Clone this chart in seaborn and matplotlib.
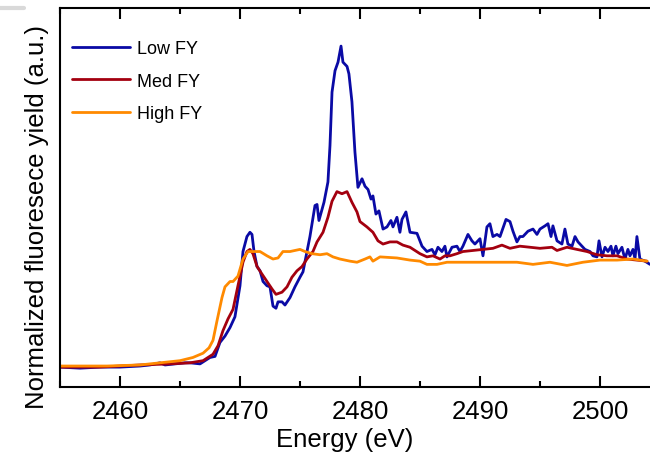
import matplotlib
matplotlib.use("Agg")
import matplotlib.pyplot as plt
from matplotlib.lines import Line2D
from matplotlib.ticker import MultipleLocator
import numpy as np
import pandas as pd
import seaborn as sns

# S K-edge fluorescence-yield spectra (energy in eV, normalized yield)
low_energy = [
    2455.00, 2456.67, 2458.33, 2460.00, 2461.67, 2462.50, 2463.33, 2463.75, 2464.58, 2465.42,
    2465.83, 2466.67, 2467.50, 2467.92, 2468.33, 2468.75, 2469.17, 2469.58, 2470.00, 2470.25,
    2470.58, 2470.83, 2471.00, 2471.17, 2471.42, 2471.67, 2471.92, 2472.25, 2472.50, 2472.75,
    2473.00, 2473.17, 2473.50, 2473.75, 2474.17, 2474.58, 2475.00, 2475.25, 2475.58, 2475.83,
    2476.25, 2476.42, 2476.58, 2477.00, 2477.33, 2477.50, 2477.67, 2477.92, 2478.17, 2478.42,
    2478.58, 2478.92, 2479.08, 2479.33, 2479.58, 2479.83, 2480.17, 2480.42, 2480.67, 2480.92,
    2481.08, 2481.33, 2481.58, 2481.92, 2482.25, 2482.58, 2482.75, 2483.08, 2483.33, 2483.50,
    2483.83, 2484.17, 2484.75, 2485.17, 2485.58, 2486.00, 2486.25, 2486.50, 2486.83, 2487.08,
    2487.25, 2487.67, 2488.08, 2488.33, 2488.58, 2489.00, 2489.33, 2489.58, 2490.00, 2490.25,
    2490.58, 2490.83, 2491.08, 2491.42, 2491.67, 2492.17, 2492.50, 2492.75, 2493.08, 2493.33,
    2493.58, 2494.00, 2494.42, 2494.75, 2495.00, 2495.42, 2495.67, 2495.92, 2496.08, 2496.42,
    2496.83, 2497.08, 2497.33, 2497.67, 2497.92, 2498.17, 2498.50, 2498.75, 2499.17, 2499.42,
    2499.75, 2499.92, 2500.17, 2500.42, 2500.67, 2500.92, 2501.08, 2501.33, 2501.50, 2501.83,
    2502.08, 2502.33, 2502.50, 2502.75, 2502.92, 2503.08, 2503.33, 2503.75, 2504.17,
]
low_fy = [
    -0.01, -0.02, -0.01, -0.01, 0.00, 0.01, 0.03, 0.01, 0.02, 0.03,
    0.03, 0.02, 0.08, 0.09, 0.22, 0.28, 0.36, 0.46, 0.75, 1.07,
    1.21, 1.25, 1.23, 1.07, 0.93, 0.89, 0.79, 0.75, 0.74, 0.56,
    0.54, 0.60, 0.60, 0.57, 0.64, 0.74, 0.83, 0.88, 1.07, 1.21,
    1.50, 1.51, 1.36, 1.53, 1.72, 2.06, 2.56, 2.76, 2.84, 2.99,
    2.84, 2.80, 2.73, 2.47, 2.00, 1.67, 1.75, 1.68, 1.65, 1.56,
    1.59, 1.42, 1.45, 1.28, 1.30, 1.36, 1.30, 1.39, 1.25, 1.37,
    1.44, 1.25, 1.24, 1.12, 1.07, 1.09, 1.04, 1.11, 1.07, 1.12,
    1.02, 1.11, 1.12, 1.07, 1.12, 1.23, 1.17, 1.14, 1.19, 1.03,
    1.30, 1.33, 1.21, 1.23, 1.21, 1.37, 1.35, 1.26, 1.16, 1.21,
    1.21, 1.26, 1.28, 1.23, 1.28, 1.31, 1.33, 1.21, 1.31, 1.17,
    1.14, 1.28, 1.14, 1.12, 1.21, 1.16, 1.12, 1.09, 1.07, 1.03,
    1.02, 1.17, 1.02, 1.11, 1.07, 1.12, 1.03, 1.12, 1.05, 1.11,
    1.00, 1.09, 1.03, 1.09, 1.00, 1.21, 1.00, 0.98, 0.95,
]

med_energy = [
    2455.00, 2458.33, 2461.67, 2464.17, 2465.83, 2466.92, 2467.75, 2468.17, 2468.58, 2469.00,
    2469.42, 2469.83, 2470.25, 2470.58, 2470.83, 2471.08, 2471.42, 2471.83, 2472.25, 2472.67,
    2473.00, 2473.50, 2473.92, 2474.33, 2474.75, 2475.17, 2475.58, 2476.08, 2476.42, 2476.92,
    2477.33, 2477.67, 2478.08, 2478.50, 2478.92, 2479.33, 2479.75, 2480.00, 2480.58, 2481.08,
    2481.50, 2481.92, 2482.50, 2483.08, 2483.58, 2484.17, 2485.00, 2485.58, 2486.08, 2486.67,
    2487.08, 2487.50, 2488.08, 2488.58, 2489.42, 2490.25, 2491.08, 2491.83, 2492.50, 2493.33,
    2494.17, 2495.00, 2496.00, 2496.42, 2497.25, 2498.08, 2498.92, 2499.75, 2500.58, 2501.42,
    2502.25, 2503.08, 2503.92,
]
med_fy = [
    -0.01, -0.01, 0.01, 0.02, 0.03, 0.05, 0.11, 0.19, 0.33, 0.44,
    0.53, 0.75, 0.97, 1.07, 1.09, 1.05, 0.93, 0.86, 0.79, 0.72,
    0.67, 0.69, 0.74, 0.83, 0.89, 0.93, 1.00, 1.07, 1.16, 1.25,
    1.39, 1.54, 1.63, 1.61, 1.63, 1.53, 1.44, 1.35, 1.30, 1.25,
    1.17, 1.14, 1.16, 1.16, 1.13, 1.11, 1.05, 1.02, 1.03, 1.00,
    1.03, 1.03, 1.05, 1.07, 1.08, 1.09, 1.10, 1.13, 1.10, 1.12,
    1.11, 1.10, 1.11, 1.08, 1.11, 1.09, 1.07, 1.04, 1.03, 1.03,
    1.00, 0.99, 0.98,
]

high_energy = [
    2455.00, 2458.92, 2461.67, 2463.33, 2465.00, 2466.08, 2466.92, 2467.42, 2467.75, 2468.08,
    2468.50, 2468.75, 2469.17, 2469.42, 2469.83, 2470.25, 2470.67, 2471.08, 2471.67, 2472.25,
    2472.75, 2473.17, 2473.58, 2474.17, 2474.58, 2475.00, 2475.42, 2476.00, 2476.67, 2477.25,
    2477.75, 2478.33, 2479.17, 2479.75, 2480.42, 2480.83, 2481.08, 2481.67, 2483.08, 2484.17,
    2485.00, 2485.58, 2486.42, 2487.25, 2488.33, 2488.92, 2490.25, 2491.67, 2493.08, 2494.42,
    2495.83, 2497.25, 2498.58, 2500.00, 2501.42, 2502.75, 2503.92,
]
high_fy = [
    0.00, 0.00, 0.01, 0.03, 0.05, 0.08, 0.12, 0.17, 0.24, 0.42,
    0.64, 0.74, 0.79, 0.79, 0.84, 1.00, 1.07, 1.07, 1.07, 1.03,
    1.00, 1.01, 1.07, 1.07, 1.08, 1.09, 1.07, 1.05, 1.04, 1.05,
    1.02, 1.00, 0.98, 0.97, 1.00, 1.02, 0.98, 1.02, 1.01, 0.99,
    0.98, 0.95, 0.95, 0.97, 0.97, 0.97, 0.97, 0.97, 0.97, 0.95,
    0.97, 0.94, 0.97, 0.99, 0.99, 1.00, 0.98,
]

series_names = ["Low FY", "Med FY", "High FY"]
series_colors = ["#0a0aa5", "#a3000f", "#ff8a00"]

df = pd.concat([
    pd.DataFrame({"Energy (eV)": low_energy, "FY": low_fy, "Series": series_names[0]}),
    pd.DataFrame({"Energy (eV)": med_energy, "FY": med_fy, "Series": series_names[1]}),
    pd.DataFrame({"Energy (eV)": high_energy, "FY": high_fy, "Series": series_names[2]}),
], ignore_index=True)

sns.set_style("ticks")
plt.rcParams["font.family"] = ["Liberation Sans", "DejaVu Sans"]
plt.rcParams["text.color"] = "black"
plt.rcParams["xtick.color"] = "black"
plt.rcParams["xtick.labelcolor"] = "black"

fig = plt.figure(figsize=(6.5, 4.56), dpi=100)
ax = fig.add_axes([60 / 650, 1 - 388 / 456, 1 - 60 / 650, (388 - 9) / 456])

sns.lineplot(data=df, x="Energy (eV)", y="FY", hue="Series", hue_order=series_names,
             palette=series_colors, estimator=None, sort=False, linewidth=2.0, ax=ax)

ax.set_xlim(2455, 2504.17)
ax.set_ylim(-0.196, 3.346)
ax.xaxis.set_major_locator(MultipleLocator(10))
ax.xaxis.set_minor_locator(MultipleLocator(5))
ax.set_yticks([])
ax.tick_params(axis="x", which="both", direction="in", top=True, bottom=True,
               width=1.5, color="black", labelcolor="black", labelsize=18.5, pad=9)
ax.tick_params(axis="x", which="major", length=8)
ax.tick_params(axis="x", which="minor", length=4)
for side in ["left", "bottom", "top"]:
    ax.spines[side].set_linewidth(1.5)
    ax.spines[side].set_color("black")
ax.spines["right"].set_visible(False)

ax.set_xlabel("")
ax.set_ylabel("")
fig.text(345 / 650, 1 - 440 / 456, "Energy (eV)", ha="center", va="center",
         fontsize=18.5, color="black")
fig.text(37 / 650, 1 - 217 / 456, "Normalized fluoresece yield (a.u.)", ha="center",
         va="center", rotation=90, fontsize=18.5, color="black")

handles = [Line2D([], [], color=c, linewidth=2.0) for c in series_colors]
leg = ax.legend(handles, series_names, loc="upper left", bbox_to_anchor=(-0.007, 0.958),
                frameon=False, fontsize=13, handlelength=3.2, handletextpad=0.4,
                labelspacing=0.85, borderaxespad=0.5)
for t in leg.get_texts():
    t.set_color("black")

# light rule at the upper-left corner of the canvas
fig.add_artist(Line2D([0, 24 / 650], [1 - 9 / 456, 1 - 9 / 456], color="#d9d9d9",
                      linewidth=3, transform=fig.transFigure))

fig.savefig("out.png", dpi=100)
